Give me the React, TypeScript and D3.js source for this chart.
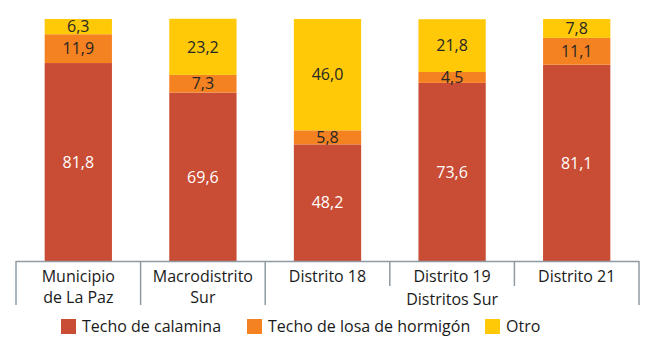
import React from "react";
import * as d3 from "d3";

const categories = ["Municipio de La Paz", "Macrodistrito Sur", "Distrito 18", "Distrito 19", "Distrito 21"];
const categoryLines = [["Municipio", "de La Paz"], ["Macrodistrito", "Sur"], ["Distrito 18"], ["Distrito 19"], ["Distrito 21"]];
const seriesNames = ["Techo de calamina", "Techo de losa de hormigón", "Otro"];
const calamina = [81.8, 69.6, 48.2, 73.6, 81.1];
const losa = [11.9, 7.3, 5.8, 4.5, 11.1];
const otro = [6.3, 23.2, 46.0, 21.8, 7.8];
const groupLabel = "Distritos Sur";
const groupMembers = [2, 3, 4];

const colors = ["#C94C34", "#F58220", "#FFC907"];
const labelColors = ["#FFFFFF", "#262626", "#262626"];
const FONT = "'Open Sans', sans-serif";

export default function App() {
  const W = 659, H = 349;
  const x0 = 16, x1 = 639, yTop = 19, yBase = 261;
  const x = d3.scaleBand<string>().domain(categories).range([x0, x1]).paddingInner(0.46).paddingOuter(0.23);
  const y = d3.scaleLinear().domain([0, 100]).range([yBase, yTop]);
  const rows = categories.map((c, i) => ({ cat: c, s0: calamina[i], s1: losa[i], s2: otro[i] }));
  const stack = d3.stack<any>().keys(["s0", "s1", "s2"])(rows);
  const step = (x1 - x0) / categories.length;
  const bandEdge = (i: number) => x0 + step * i;
  const fmt = (v: number) => v.toFixed(1).replace(".", ",");

  const legendX = [61, 247, 485];

  return (
    <svg width={W} height={H} style={{ position: "absolute", left: 0, top: 0 }} fontFamily={FONT}>
      <rect width={W} height={H} fill="#fff" />
      {stack.map((layer, li) => (
        <g key={li}>
          {layer.map((d, i) => (
            <rect key={i} x={x(categories[i])} width={x.bandwidth()} y={y(d[1])} height={y(d[0]) - y(d[1])} fill={colors[li]} />
          ))}
        </g>
      ))}
      {stack.map((layer, li) => (
        <g key={"l" + li}>
          {layer.map((d, i) => (
            <text key={i} x={(x(categories[i]) as number) + x.bandwidth() / 2} y={(y(d[0]) + y(d[1])) / 2} dy="0.36em"
              textAnchor="middle" fontSize={16} fill={labelColors[li]}>{fmt(d[1] - d[0])}</text>
          ))}
        </g>
      ))}
      {/* axis */}
      <line x1={x0} x2={x1} y1={yBase + 0.5} y2={yBase + 0.5} stroke="#8E9BA3" strokeWidth={1.5} />
      {d3.range(categories.length + 1).map((i) => {
        const inGroup = i > groupMembers[0] && i <= groupMembers[groupMembers.length - 1];
        return (
          <line key={i} x1={bandEdge(i)} x2={bandEdge(i)} y1={yBase} y2={inGroup ? 286 : 305} stroke="#8E9BA3" strokeWidth={1.5} />
        );
      })}
      {categoryLines.map((lines, i) => (
        <text key={i} x={(x(categories[i]) as number) + x.bandwidth() / 2} textAnchor="middle" fontSize={16} fill="#1a1a1a">
          {lines.map((t, k) => (
            <tspan key={k} x={(x(categories[i]) as number) + x.bandwidth() / 2} y={282 + k * 21}>{t}</tspan>
          ))}
        </text>
      ))}
      <text x={(bandEdge(groupMembers[0]) + bandEdge(groupMembers[groupMembers.length - 1] + 1)) / 2} y={305} textAnchor="middle" fontSize={16} fill="#1a1a1a">{groupLabel}</text>
      {seriesNames.map((s, i) => (
        <g key={s}>
          <rect x={legendX[i]} y={319} width={15} height={15} fill={colors[i]} />
          <text x={legendX[i] + 21} y={332} fontSize={16} fill="#1a1a1a">{s}</text>
        </g>
      ))}
    </svg>
  );
}
